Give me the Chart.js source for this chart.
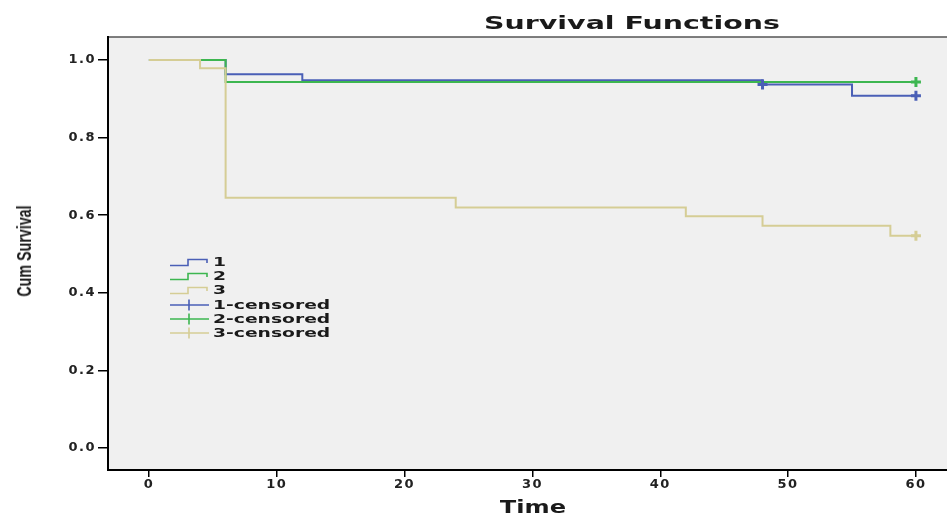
<!DOCTYPE html>
<html>
<head>
<meta charset="utf-8">
<script src="https://cdn.jsdelivr.net/npm/chart.js@4/dist/chart.umd.min.js"></script>
<style>
  body { margin: 0; background: #fff; }
  .wrap { position: relative; width: 947px; height: 515px; overflow: hidden; }
  canvas { position: absolute; left: 0; top: 0; }
  .txt {
    position: absolute;
    font-family: "DejaVu Sans", sans-serif;
    font-weight: bold;
    color: #1a1a1a;
    white-space: nowrap;
  }
  #title { left: 632px; top: 12px; font-size: 18px; transform: translateX(-50%) scaleX(1.58); }
  #xtitle { left: 533px; top: 497px; font-size: 17px; transform: translateX(-50%) scaleX(1.42); }
  #ytitle {
    left: 24px; top: 251px; font-family: "Liberation Sans", Arial, sans-serif;
    font-size: 21px; transform: translate(-50%, -50%) rotate(-90deg) scaleX(0.68);
  }
  #legend { position: absolute; left: 169px; top: 255px; }
  .row { display: flex; align-items: center; height: 14.2px; }
  .row svg { flex: none; }
  .row span {
    font-family: "DejaVu Sans", sans-serif; font-weight: bold; font-size: 12px;
    color: #1a1a1a; display: inline-block; transform: scaleX(1.56); transform-origin: left center;
    margin-left: 2px; line-height: 14px;
  }
</style>
</head>
<body>
<div class="wrap">
  <canvas id="chart" width="947" height="515"></canvas>
  <div class="txt" id="title">Survival Functions</div>
  <div class="txt" id="xtitle">Time</div>
  <div class="txt" id="ytitle">Cum Survival</div>
  <div id="legend"></div>
</div>
<script>
// Kaplan-Meier steps per group
const groupNames = ['1', '2', '3'];
const groupColors = ['#4a5fb6', '#3db650', '#d5cd95'];

const group1Times = [0, 6, 12, 48, 55, 60];
const group1Surv = [1.0, 0.963, 0.948, 0.937, 0.908, 0.908];
const group2Times = [0, 6, 60];
const group2Surv = [1.0, 0.943, 0.943];
const group3Times = [0, 4, 6, 24, 42, 48, 58, 60];
const group3Surv = [1.0, 0.979, 0.645, 0.620, 0.597, 0.573, 0.547, 0.547];

// censored cases
const group1CensorTimes = [48, 60];
const group1CensorSurv = [0.937, 0.908];
const group2CensorTimes = [60];
const group2CensorSurv = [0.943];
const group3CensorTimes = [60];
const group3CensorSurv = [0.547];

const xTicks = [0, 10, 20, 30, 40, 50, 60];
const yTicks = [0.0, 0.2, 0.4, 0.6, 0.8, 1.0];

const toPoints = (xs, ys) => xs.map((x, i) => ({ x: x, y: ys[i] }));

const stepSets = [
  [group1Times, group1Surv],
  [group2Times, group2Surv],
  [group3Times, group3Surv]
];
const censorSets = [
  [group1CensorTimes, group1CensorSurv],
  [group2CensorTimes, group2CensorSurv],
  [group3CensorTimes, group3CensorSurv]
];

const datasets = [];
stepSets.forEach((s, i) => {
  datasets.push({
    label: groupNames[i],
    data: toPoints(s[0], s[1]),
    borderColor: groupColors[i],
    borderWidth: 2,
    showLine: true,
    stepped: 'before',
    pointRadius: 0,
    fill: false,
    order: 2 - i
  });
});
censorSets.forEach((s, i) => {
  datasets.push({
    label: groupNames[i] + '-censored',
    data: toPoints(s[0], s[1]),
    showLine: false,
    pointStyle: 'cross',
    pointRadius: 5,
    pointBorderWidth: 3,
    borderColor: groupColors[i],
    backgroundColor: groupColors[i],
    order: -1
  });
});

const plotFrame = {
  id: 'plotFrame',
  beforeDraw(chart) {
    const { ctx, chartArea: a } = chart;
    ctx.save();
    ctx.fillStyle = '#f0f0f0';
    ctx.fillRect(a.left, a.top, a.right - a.left, a.bottom - a.top);
    ctx.strokeStyle = '#555';
    ctx.lineWidth = 1.5;
    ctx.beginPath();
    ctx.moveTo(a.left, a.top);
    ctx.lineTo(a.right, a.top);
    ctx.stroke();
    ctx.restore();
    // wide tick lettering like the original
    ctx.letterSpacing = '1.5px';
  }
};

new Chart(document.getElementById('chart'), {
  type: 'scatter',
  data: { datasets: datasets },
  options: {
    responsive: false,
    animation: false,
    layout: { autoPadding: false, padding: { top: 37, left: 0, right: 0, bottom: 0 } },
    plugins: { legend: { display: false }, tooltip: { enabled: false } },
    scales: {
      x: {
        type: 'linear',
        min: -3.2,
        max: 62.43,
        afterBuildTicks: s => { s.ticks = xTicks.map(v => ({ value: v })); },
        afterFit: s => { s.height = 45; s.paddingLeft = 0; s.paddingRight = 0; },
        grid: { drawOnChartArea: false, drawTicks: true, tickLength: 7, color: '#000', lineWidth: 1.5 },
        border: { display: true, color: '#000', width: 2 },
        ticks: {
          padding: 0,
          color: '#222',
          font: { family: 'DejaVu Sans', size: 13, weight: 'bold' },
          callback: v => String(v)
        }
      },
      y: {
        type: 'linear',
        min: -0.0567,
        max: 1.0593,
        afterBuildTicks: s => { s.ticks = yTicks.map(v => ({ value: v })); },
        afterFit: s => { s.width = 108; s.paddingTop = 0; s.paddingBottom = 0; },
        grid: { drawOnChartArea: false, drawTicks: true, tickLength: 10, color: '#000', lineWidth: 1.5 },
        border: { display: true, color: '#000', width: 2 },
        ticks: {
          padding: 2,
          color: '#222',
          font: { family: 'DejaVu Sans', size: 13, weight: 'bold' },
          callback: v => Number(v).toFixed(1)
        }
      }
    }
  },
  plugins: [plotFrame]
});

// legend, drawn inside the plot like the original
const legend = document.getElementById('legend');
const stepIcon = c => '<svg width="42" height="14"><path d="M1 10.5 H19 V4.5 H38 V8" fill="none" stroke="' + c + '" stroke-width="1.6"/></svg>';
const crossIcon = c => '<svg width="42" height="14"><path d="M1 7 H40 M20 1.5 V12.5" fill="none" stroke="' + c + '" stroke-width="1.6"/></svg>';
groupNames.forEach((n, i) => {
  legend.insertAdjacentHTML('beforeend', '<div class="row">' + stepIcon(groupColors[i]) + '<span>' + n + '</span></div>');
});
groupNames.forEach((n, i) => {
  legend.insertAdjacentHTML('beforeend', '<div class="row">' + crossIcon(groupColors[i]) + '<span>' + n + '-censored</span></div>');
});
</script>
</body>
</html>
